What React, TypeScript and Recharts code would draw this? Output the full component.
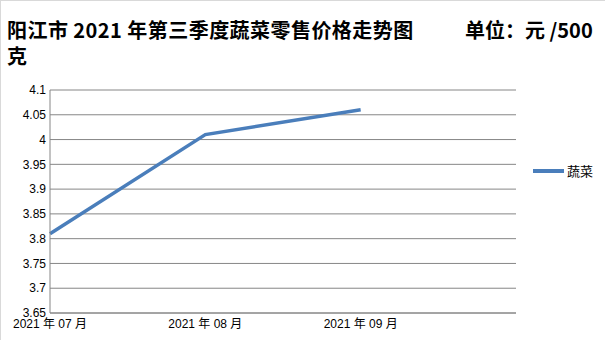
import { CartesianGrid, Legend, Line, LineChart, XAxis, YAxis } from 'recharts';

const months = ['2021 年 07 月', '2021 年 08 月', '2021 年 09 月'];
const vegPrices = [3.81, 4.01, 4.06];
const yTicks = [3.65, 3.7, 3.75, 3.8, 3.85, 3.9, 3.95, 4, 4.05, 4.1];

const data = months.map((m, i) => ({ idx: i, month: m, 蔬菜: vegPrices[i] }));

const LINE_COLOR = '#4A7EBB';
const GRID = '#868686';
const tickFont = { fontFamily: '"Liberation Sans", "Noto Sans CJK SC", sans-serif', fontSize: 12, fill: '#000' };

const titleStyle: React.CSSProperties = {
  position: 'absolute',
  fontFamily: '"Noto Sans CJK SC", sans-serif',
  fontWeight: 700,
  fontSize: 20,
  lineHeight: '22px',
  color: '#000',
  whiteSpace: 'pre',
};

function LegendContent(props: any) {
  const items = props.payload ?? [];
  return (
    <div>
      {items.map((it: any) => (
        <div key={it.value} style={{ display: 'flex', alignItems: 'center' }}>
          <span style={{ display: 'inline-block', width: 31, height: 4, background: it.color, marginRight: 3 }} />
          <span style={{ fontFamily: '"Noto Sans CJK SC", sans-serif', fontSize: 13, color: '#000' }}>{it.value}</span>
        </div>
      ))}
    </div>
  );
}

export default function App() {
  return (
    <div
      style={{
        position: 'absolute',
        left: 0,
        top: 0,
        width: 605,
        height: 340,
        background: '#fff',
        borderTop: '1px solid #d9d9d9',
        borderLeft: '1px solid #d9d9d9',
        boxSizing: 'border-box',
        overflow: 'hidden',
      }}
    >
      <div style={{ ...titleStyle, left: 6, top: 18, letterSpacing: 0.45 }}>阳江市 2021 年第三季度蔬菜零售价格走势图</div>
      <div style={{ ...titleStyle, left: 464, top: 18 }}>单位：元 /500</div>
      <div style={{ ...titleStyle, left: 6, top: 44 }}>克</div>
      <div style={{ position: 'absolute', left: -1, top: -1 }}>
        <LineChart width={605} height={340} data={data} margin={{ top: 90, right: 89, bottom: 0, left: 0 }}>
          <CartesianGrid vertical={false} stroke={GRID} strokeWidth={1} />
          <XAxis
            dataKey="idx"
            type="number"
            domain={[0, 3]}
            ticks={[0, 1, 2]}
            tickFormatter={(v) => months[v] ?? ''}
            axisLine={{ stroke: GRID }}
            tickLine={false}
            tickSize={2}
            tickMargin={4}
            height={27}
            tick={tickFont}
            interval={0}
          />
          <YAxis
            type="number"
            domain={[3.65, 4.1]}
            ticks={yTicks}
            axisLine={{ stroke: GRID }}
            tickLine={false}
            tickSize={2}
            tickMargin={2}
            width={50}
            tick={tickFont}
            interval={0}
          />
          <Legend
            layout="vertical"
            align="center"
            verticalAlign="middle"
            content={<LegendContent />}
            wrapperStyle={{ position: 'absolute', left: 533, top: 161, width: 70 }}
          />
          <Line
            dataKey="蔬菜"
            stroke={LINE_COLOR}
            strokeWidth={3.5}
            dot={false}
            activeDot={false}
            isAnimationActive={false}
          />
        </LineChart>
      </div>
    </div>
  );
}
